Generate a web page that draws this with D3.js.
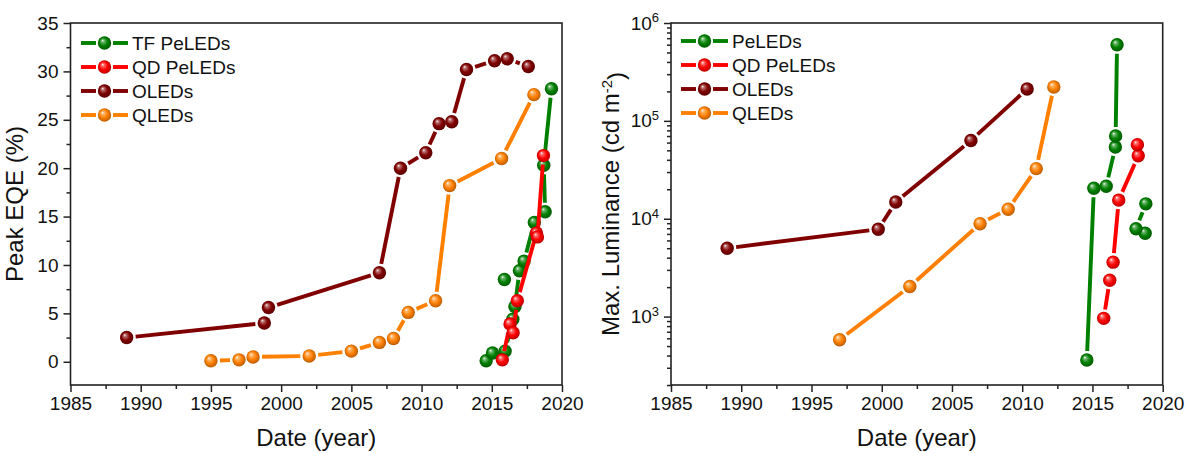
<!DOCTYPE html>
<html>
<head>
<meta charset="utf-8">
<script src="https://cdn.jsdelivr.net/npm/d3@7"></script>
<style>
  body { margin: 0; background: #fff; }
  text { font-family: Arial, "Liberation Sans", sans-serif; fill: #111; }
</style>
</head>
<body>
<svg id="chart" width="1195" height="453"></svg>
<script>
// ---- data: peak EQE (%) ----
var eqeTfYear  = [2014.6, 2015.05, 2015.95, 2016.5, 2016.65, 2016.97, 2017.3, 2018.03, 2018.8, 2018.7, 2019.25];
var eqeTfVal   = [0.1, 0.9, 1.1, 4.4, 5.7, 9.4, 10.4, 14.4, 15.5, 20.3, 28.2];
var eqeTfLooseYear = [2015.9];   // point not joined by the line
var eqeTfLooseVal  = [8.5];
var eqeQdYear  = [2015.75, 2016.3, 2016.52, 2016.82, 2018.18, 2018.25, 2018.68];
var eqeQdVal   = [0.2, 3.9, 3.0, 6.3, 13.3, 12.9, 21.3];
var eqeOledYear = [1989.0, 1998.8, 1999.1, 2007.0, 2008.5, 2010.3, 2011.25, 2012.15, 2013.2, 2015.2, 2016.1, 2017.6];
var eqeOledVal  = [2.5, 4.0, 5.6, 9.2, 20.0, 21.6, 24.6, 24.8, 30.2, 31.1, 31.3, 30.5];
var eqeQledYear = [1995.0, 1997.0, 1998.0, 2002.0, 2005.0, 2007.0, 2008.0, 2009.05, 2011.0, 2012.0, 2015.7, 2018.0];
var eqeQledVal  = [0.1, 0.2, 0.5, 0.6, 1.1, 2.0, 2.4, 5.1, 6.3, 18.2, 21.0, 27.6];

// ---- data: max luminance (cd m-2) ----
var lumPeYearA = [2014.6, 2015.1, 2015.98, 2016.63, 2016.65, 2016.75];
var lumPeValA  = [360, 20500, 21500, 54000, 70000, 600000];
var lumPeYearB = [2018.75, 2018.1, 2018.8];
var lumPeValB  = [7100, 7900, 14200];
var lumQdYear  = [2015.8, 2016.23, 2016.47, 2016.87, 2018.26, 2018.2];
var lumQdVal   = [960, 2350, 3600, 15500, 44000, 57000];
var lumOledYear = [1989.0, 1999.75, 2001.0, 2006.35, 2010.35];
var lumOledVal  = [5000, 7800, 14800, 63000, 212000];
var lumQledYear = [1997.0, 2002.0, 2007.0, 2009.0, 2011.0, 2012.25];
var lumQledVal  = [580, 2030, 8900, 12500, 32500, 222000];

var xTicks = [1985, 1990, 1995, 2000, 2005, 2010, 2015, 2020];
var xMinor = [1987.5, 1992.5, 1997.5, 2002.5, 2007.5, 2012.5, 2017.5];
var eqeTicks = [0, 5, 10, 15, 20, 25, 30, 35];
var eqeMinor = [2.5, 7.5, 12.5, 17.5, 22.5, 27.5, 32.5];
var lumTicks = [1e3, 1e4, 1e5, 1e6];

var eqeLegend = ["TF PeLEDs", "QD PeLEDs", "OLEDs", "QLEDs"];
var lumLegend = ["PeLEDs", "QD PeLEDs", "OLEDs", "QLEDs"];
var colors = ["#008000", "#ff0000", "#800000", "#ff8000"];

var plotTop = 23, plotBottom = 385, r = 6.7, gap = 9;

var svg = d3.select("#chart");
var defs = svg.append("defs");

// shaded ball symbols
colors.forEach(function(c, i) {
    var g = defs.append("radialGradient").attr("id", "ball" + i)
        .attr("cx", "50%").attr("cy", "50%").attr("r", "55%")
        .attr("fx", "34%").attr("fy", "30%");
    g.append("stop").attr("offset", "0%").attr("stop-color", "#ffffff");
    g.append("stop").attr("offset", "18%").attr("stop-color", d3.interpolateRgb(c, "#fff")(0.45));
    g.append("stop").attr("offset", "55%").attr("stop-color", c);
    g.append("stop").attr("offset", "100%").attr("stop-color", d3.color(c).darker(1.1));
});

function pts(xs, ys) {
    return xs.map(function(d, i) { return {x: d, y: ys[i]}; });
}

// line segments that stop short of the symbols
function drawLine(x, y, data, ci) {
    var segs = [];
    for (var i = 1; i < data.length; i++) {
        var x1 = x(data[i-1].x), y1 = y(data[i-1].y), x2 = x(data[i].x), y2 = y(data[i].y);
        var len = Math.hypot(x2 - x1, y2 - y1);
        if (len > 2 * gap + 2) {
            var ux = (x2 - x1) / len, uy = (y2 - y1) / len;
            segs.push([x1 + ux * gap, y1 + uy * gap, x2 - ux * gap, y2 - uy * gap]);
        }
    }
    svg.append("g").selectAll("line").data(segs).enter().append("line")
        .attr("x1", function(d) { return d[0]; })
        .attr("y1", function(d) { return d[1]; })
        .attr("x2", function(d) { return d[2]; })
        .attr("y2", function(d) { return d[3]; })
        .attr("stroke", colors[ci])
        .attr("stroke-width", 3.9);
}

function drawBalls(x, y, data, ci) {
    svg.append("g").selectAll("circle").data(data).enter().append("circle")
        .attr("cx", function(d) { return x(d.x); })
        .attr("cy", function(d) { return y(d.y); })
        .attr("r", r)
        .attr("fill", "url(#ball" + ci + ")");
}

function series(x, y, data, ci, noLine) {
    if (!noLine) drawLine(x, y, data, ci);
    drawBalls(x, y, data, ci);
}

function styleAxis(g) {
    g.select(".domain").remove();
    g.selectAll(".tick line").attr("stroke", "#222").attr("stroke-width", 1.5);
    g.selectAll(".tick text").style("font-size", "19px").attr("fill", "#111");
}

function frame(x0, x1, y, yTicks, yMinor, yFormat) {
    var x = d3.scaleLinear().domain([1985, 2020]).range([x0, x1]);

    svg.append("g").attr("transform", "translate(0," + plotBottom + ")")
        .call(d3.axisBottom(x).tickValues(xMinor).tickSize(4).tickFormat(""))
        .call(styleAxis);
    svg.append("g").attr("transform", "translate(0," + plotBottom + ")")
        .call(d3.axisBottom(x).tickValues(xTicks).tickSize(7).tickPadding(5).tickFormat(d3.format("d")))
        .call(styleAxis);

    svg.append("g").attr("transform", "translate(" + x0 + ",0)")
        .call(d3.axisLeft(y).tickValues(yMinor).tickSize(4).tickFormat(""))
        .call(styleAxis);
    var gy = svg.append("g").attr("transform", "translate(" + x0 + ",0)")
        .call(d3.axisLeft(y).tickValues(yTicks).tickSize(7).tickPadding(5).tickFormat(yFormat))
        .call(styleAxis);

    svg.append("rect")
        .attr("x", x0).attr("y", plotTop)
        .attr("width", x1 - x0).attr("height", plotBottom - plotTop)
        .attr("fill", "none").attr("stroke", "#222").attr("stroke-width", 1.6);

    svg.append("text")
        .attr("x", (x0 + x1) / 2).attr("y", 446)
        .attr("text-anchor", "middle")
        .style("font-size", "24px")
        .text("Date (year)");
    return {x: x, gy: gy};
}

function legend(x0, y0, labels) {
    labels.forEach(function(t, i) {
        var yy = y0 + i * 24;
        var g = svg.append("g");
        g.append("line").attr("x1", x0).attr("x2", x0 + 15).attr("y1", yy).attr("y2", yy)
            .attr("stroke", colors[i]).attr("stroke-width", 3.9);
        g.append("line").attr("x1", x0 + 32).attr("x2", x0 + 47).attr("y1", yy).attr("y2", yy)
            .attr("stroke", colors[i]).attr("stroke-width", 3.9);
        g.append("circle").attr("cx", x0 + 23.5).attr("cy", yy).attr("r", r)
            .attr("fill", "url(#ball" + i + ")");
        g.append("text").attr("x", x0 + 51).attr("y", yy).attr("dy", "0.36em")
            .style("font-size", "19px").text(t);
    });
}

// ---------- left: peak EQE ----------
var yE = d3.scaleLinear().domain([-2.4, 35]).range([plotBottom, plotTop]);
var left = frame(70.5, 562, yE, eqeTicks, eqeMinor, d3.format("d"));
var xE = left.x;

svg.append("text")
    .attr("transform", "translate(23," + (plotTop + plotBottom) / 2 + ") rotate(-90)")
    .attr("text-anchor", "middle")
    .style("font-size", "24px")
    .text("Peak EQE (%)");

series(xE, yE, pts(eqeOledYear, eqeOledVal), 2);
series(xE, yE, pts(eqeQledYear, eqeQledVal), 3);
series(xE, yE, pts(eqeTfYear, eqeTfVal), 0);
series(xE, yE, pts(eqeTfLooseYear, eqeTfLooseVal), 0, true);
series(xE, yE, pts(eqeQdYear, eqeQdVal), 1);
legend(81, 43, eqeLegend);

// ---------- right: max luminance ----------
var yL = d3.scaleLog().domain([200, 1e6]).range([plotBottom, plotTop]);
var right = frame(671, 1162.7, yL, lumTicks, [], function() { return ""; });
var xL = right.x;

// minor log ticks
var lumMinor = [];
[100, 1000, 10000, 100000].forEach(function(dec) {
    for (var k = 2; k <= 9; k++) if (k * dec >= 200 && k * dec < 1e6) lumMinor.push(k * dec);
});
svg.append("g").attr("transform", "translate(671,0)")
    .call(d3.axisLeft(yL).tickValues(lumMinor).tickSize(4).tickFormat(""))
    .call(styleAxis);

right.gy.selectAll(".tick text").each(function(d) {
    var t = d3.select(this);
    t.text("10");
    t.append("tspan").attr("dy", "-0.55em").style("font-size", "13px").text(Math.round(Math.log10(d)));
});

var yt = svg.append("text")
    .attr("transform", "translate(619," + (plotTop + plotBottom) / 2 + ") rotate(-90)")
    .attr("text-anchor", "middle")
    .style("font-size", "24px");
yt.append("tspan").text("Max. Luminance (cd m");
yt.append("tspan").attr("dy", "-0.5em").style("font-size", "15px").text("-2");
yt.append("tspan").attr("dy", "0.5em").text(")");

series(xL, yL, pts(lumOledYear, lumOledVal), 2);
series(xL, yL, pts(lumQledYear, lumQledVal), 3);
series(xL, yL, pts(lumPeYearA, lumPeValA), 0);
series(xL, yL, pts(lumPeYearB, lumPeValB), 0);
series(xL, yL, pts(lumQdYear, lumQdVal), 1);
legend(681, 41, lumLegend);
</script>
</body>
</html>
